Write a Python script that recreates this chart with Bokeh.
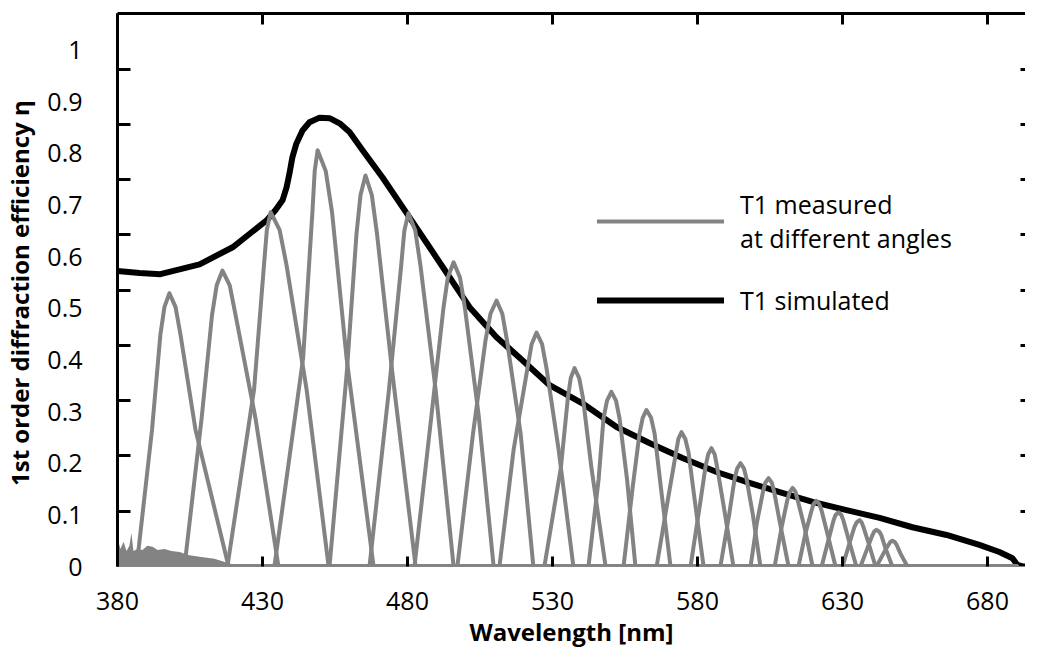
from bokeh.plotting import figure
from bokeh.models import (Range1d, LinearAxis, FixedTicker, Legend, LegendItem,
                          NumeralTickFormatter, ColumnDataSource)
from bokeh.embed import file_html
from bokeh.resources import INLINE

# ---------------- data ----------------
# T1 simulated
SIM_WL = [380.0, 387.6, 394.8, 408.3, 419.7, 431.4, 434.5, 436.9, 438.3, 439.3, 440.3,
          441.7, 443.8, 446.2, 449.7, 453.1, 456.6, 460.0, 464.5, 471.4, 479.7, 487.6,
          494.5, 501.4, 510.7, 519.7, 529.0, 540.3, 552.1, 563.4, 574.8, 586.6, 597.9,
          608.3, 619.7, 631.4, 642.8, 654.1, 665.9, 677.2, 684.1, 688.6, 690.3, 692.1, 697.0]
SIM_EFF = [0.572, 0.568, 0.566, 0.585, 0.618, 0.670, 0.690, 0.709, 0.734, 0.761, 0.792,
           0.819, 0.844, 0.860, 0.869, 0.868, 0.858, 0.841, 0.806, 0.753, 0.684, 0.618,
           0.560, 0.502, 0.444, 0.399, 0.351, 0.316, 0.270, 0.239, 0.210, 0.183, 0.162,
           0.144, 0.125, 0.109, 0.094, 0.076, 0.061, 0.042, 0.028, 0.016, 0.003, 0.0, 0.0]

# T1 measured at different angles: one peak per angle
PEAK_CENTER = [397.9, 416.2, 432.8, 449.0, 465.5, 480.3, 495.9, 510.7, 524.5, 537.6, 550.3,
               562.4, 574.5, 584.8, 594.8, 604.5, 612.8, 621.0, 628.6, 635.9, 641.7, 647.2]
PEAK_HEIGHT = [0.529, 0.573, 0.686, 0.806, 0.757, 0.684, 0.589, 0.515, 0.453, 0.384, 0.338,
               0.303, 0.260, 0.229, 0.200, 0.171, 0.152, 0.127, 0.105, 0.090, 0.071, 0.050]
LEFT_BASE = [386.6, 403.1, 417.9, 434.1, 453.1, 466.9, 482.4, 497.2, 511.7, 527.2, 542.4,
             554.5, 565.9, 577.6, 587.9, 598.3, 606.6, 614.8, 622.8, 630.0, 636.2, 641.7]
LEFT_HALF = [391.9, 409.0, 427.1, 444.0, 459.1, 473.6, 488.3, 502.6, 516.6, 532.9, 545.9,
             557.6, 569.8, 580.7, 590.9, 600.5, 609.0, 617.2, 625.2, 632.4, 638.6, 644.1]
LEFT_UPPER = [394.8, 412.6, 430.5, 447.2, 462.4, 477.8, 492.4, 506.9, 521.4, 535.3, 547.6,
              560.0, 572.6, 582.8, 592.8, 602.6, 611.0, 619.3, 626.9, 634.1, 640.3, 645.9]
LEFT_TOP = [396.2, 414.2, 431.5, 448.0, 463.8, 478.9, 493.9, 508.6, 522.8, 536.3, 548.8,
            561.1, 573.4, 583.7, 593.7, 603.4, 611.8, 620.0, 627.6, 634.9, 640.9, 646.5]
RIGHT_TOP = [400.0, 418.7, 435.9, 451.8, 467.7, 482.7, 498.1, 512.7, 526.4, 539.2, 551.9,
             564.0, 575.8, 585.9, 596.0, 605.6, 613.8, 622.0, 629.6, 636.6, 642.7, 648.0]
RIGHT_UPPER = [401.7, 420.7, 438.3, 454.0, 469.5, 484.5, 499.8, 514.3, 527.9, 540.5, 553.1,
               565.2, 576.9, 586.7, 596.9, 606.4, 614.5, 622.8, 630.3, 637.2, 643.4, 648.6]
RIGHT_HALF = [406.9, 427.6, 445.2, 459.0, 474.7, 489.7, 504.5, 519.0, 532.1, 543.4, 555.7,
              567.4, 579.0, 589.1, 599.1, 608.4, 616.9, 624.8, 632.1, 639.0, 644.8, 650.0]
RIGHT_BASE = [418.3, 435.5, 452.8, 468.3, 482.8, 495.9, 509.7, 523.4, 537.2, 548.3, 558.6,
              570.7, 582.1, 592.4, 601.7, 611.4, 619.7, 627.6, 634.8, 641.4, 647.2, 652.4]
MEASURED_START = 380.0
MEASURED_END = 690.0

# noise of the measured curves at the short-wavelength end
NOISE_WL = [380.0, 381.0, 382.1, 383.1, 384.1, 384.8, 385.5, 386.9, 388.6, 390.3, 392.1,
            393.8, 396.2, 398.6, 401.4, 404.8, 408.3, 413.4, 422.1]
NOISE_EFF = [0.055, 0.034, 0.048, 0.030, 0.040, 0.065, 0.030, 0.034, 0.032, 0.040, 0.038,
             0.032, 0.034, 0.030, 0.028, 0.022, 0.019, 0.015, 0.0]

X_TICKS = [380, 430, 480, 530, 580, 630, 680]
Y_TICKS = [0, 0.1, 0.2, 0.3, 0.4, 0.5, 0.6, 0.7, 0.8, 0.9, 1.0]
Y_MARKS = [0.107, 0.214, 0.321, 0.428, 0.535, 0.642, 0.749, 0.856, 0.963]

# ---------------- styling ----------------
FONT = "Open Sans"
GRAY = "#838383"

p = figure(frame_width=908, frame_height=553, output_backend="svg", toolbar_location=None,
           x_range=Range1d(380, 693.1), y_range=Range1d(0, 1.0706),
           min_border_left=110, min_border_top=13, min_border_right=0, min_border_bottom=5)
p.outline_line_color = None
p.xgrid.visible = False
p.ygrid.visible = False
p.background_fill_color = "white"
p.border_fill_color = "white"

# bottom axis
xa = p.below[0]
xa.ticker = FixedTicker(ticks=X_TICKS)
xa.axis_line_color = None
xa.major_tick_in = 10
xa.major_tick_out = 0
xa.major_tick_line_width = 3
xa.major_tick_line_color = "black"
xa.minor_tick_line_color = None
xa.major_label_text_font = FONT
xa.major_label_text_font_size = "25px"
xa.major_label_text_color = "black"
xa.major_label_standoff = 25
xa.axis_label = "Wavelength [nm]"
xa.axis_label_text_font = FONT
xa.axis_label_text_font_style = "bold"
xa.axis_label_text_font_size = "24px"
xa.axis_label_text_color = "black"
xa.axis_label_standoff = 2

# left axis
ya = p.left[0]
ya.ticker = FixedTicker(ticks=Y_TICKS, minor_ticks=Y_MARKS)
ya.formatter = NumeralTickFormatter(format="0.[0]")
ya.axis_line_width = 3
ya.axis_line_color = "black"
ya.major_tick_line_color = None
ya.minor_tick_in = 13
ya.minor_tick_out = 0
ya.minor_tick_line_width = 3
ya.minor_tick_line_color = "black"
ya.major_label_text_font = FONT
ya.major_label_text_font_size = "25px"
ya.major_label_text_color = "black"
ya.major_label_standoff = 29
ya.axis_label = "1st order diffraction efficiency  \u03b7"
ya.axis_label_text_font = FONT
ya.axis_label_text_font_style = "bold"
ya.axis_label_text_font_size = "24px"
ya.axis_label_text_color = "black"
ya.axis_label_standoff = 8

# top axis (tick marks only, no labels)
top = LinearAxis(ticker=FixedTicker(ticks=[], minor_ticks=X_TICKS),
                 axis_line_width=3, axis_line_color="black",
                 major_tick_line_color=None, minor_tick_in=11, minor_tick_out=0,
                 minor_tick_line_width=3, minor_tick_line_color="black",
                 major_label_standoff=0)
p.add_layout(top, "above")

# right axis (tick marks only, no labels)
right = LinearAxis(ticker=FixedTicker(ticks=[], minor_ticks=Y_MARKS), axis_line_color=None,
                   major_tick_line_color=None, minor_tick_in=5, minor_tick_out=0,
                   minor_tick_line_width=3, minor_tick_line_color="black",
                   major_label_standoff=0)
p.add_layout(right, "right")

# ---------------- glyphs ----------------
p.varea(x=NOISE_WL, y1=[0] * len(NOISE_WL), y2=NOISE_EFF, fill_color=GRAY)

black_r = p.line(SIM_WL, SIM_EFF, line_color="black", line_width=6,
                 line_join="round", line_cap="round")

xs, ys = [], []
for i in range(len(PEAK_CENTER)):
    h = PEAK_HEIGHT[i]
    xs.append([MEASURED_START, LEFT_BASE[i], LEFT_HALF[i], LEFT_UPPER[i], LEFT_TOP[i],
               PEAK_CENTER[i], RIGHT_TOP[i], RIGHT_UPPER[i], RIGHT_HALF[i], RIGHT_BASE[i],
               MEASURED_END])
    ys.append([0, 0, 0.5 * h, 0.85 * h, 0.95 * h, h, 0.95 * h, 0.85 * h, 0.5 * h, 0, 0])
gray_src = ColumnDataSource(dict(xs=xs, ys=ys))
gray_r = p.multi_line("xs", "ys", source=gray_src, line_color=GRAY, line_width=4,
                      line_join="round", line_cap="round")

legend = Legend(items=[LegendItem(label="T1 measured\nat different angles", renderers=[gray_r]),
                       LegendItem(label="T1 simulated", renderers=[black_r])],
                location=(480, 249), orientation="vertical",
                glyph_width=127, glyph_height=20, label_standoff=16, spacing=28,
                padding=0, margin=0, border_line_color=None, background_fill_alpha=0,
                label_text_font=FONT, label_text_font_size="25px", label_text_color="black",
                label_text_line_height=0.77)
p.add_layout(legend)

open("out.html", "w").write(file_html(p, INLINE))
